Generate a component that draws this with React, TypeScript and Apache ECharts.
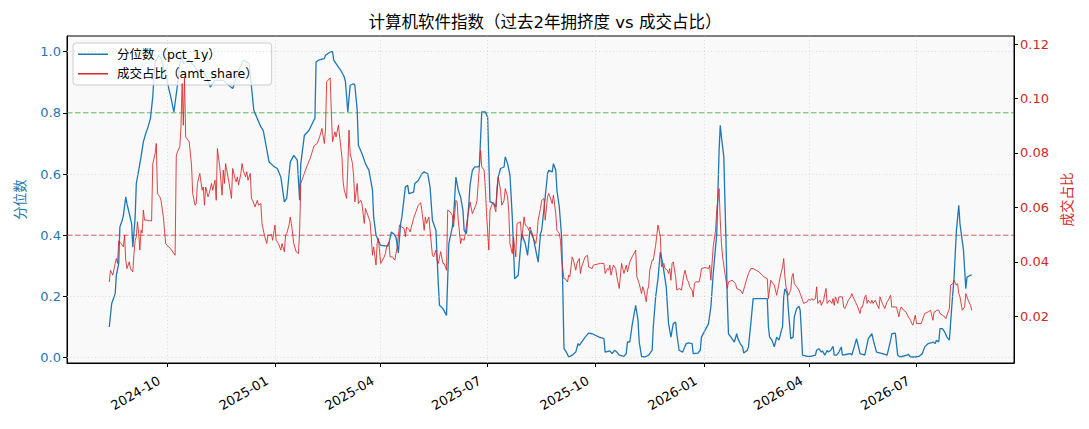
import { FC, useEffect, useRef } from "react";
import * as echarts from "echarts";

// 标题与图例
const TITLE = "计算机软件指数（过去2年拥挤度 vs 成交占比）";
const PCT_NAME = "分位数（pct_1y）";
const AMT_NAME = "成交占比（amt_share）";

// 分位数 (左轴)
const pctSeries: [string, number][] = [
  ["2024-08-13", 0.10], ["2024-08-15", 0.176], ["2024-08-18", 0.209], ["2024-08-19", 0.269], ["2024-08-21", 0.307],
  ["2024-08-22", 0.427], ["2024-08-24", 0.449], ["2024-08-25", 0.465], ["2024-08-27", 0.525], ["2024-08-28", 0.503],
  ["2024-08-30", 0.471], ["2024-09-01", 0.438], ["2024-09-02", 0.361], ["2024-09-04", 0.459], ["2024-09-05", 0.569],
  ["2024-09-07", 0.612], ["2024-09-09", 0.656], ["2024-09-11", 0.705], ["2024-09-13", 0.732], ["2024-09-15", 0.754],
  ["2024-09-17", 0.781], ["2024-09-19", 0.852], ["2024-09-20", 0.917], ["2024-09-21", 0.966], ["2024-09-24", 0.988],
  ["2024-09-26", 0.978], ["2024-09-30", 0.923], ["2024-10-04", 0.857], ["2024-10-07", 0.803], ["2024-10-10", 0.89],
  ["2024-10-13", 0.988], ["2024-10-15", 0.961], ["2024-10-20", 0.972], ["2024-10-27", 0.939], ["2024-11-01", 0.939],
  ["2024-11-07", 0.884], ["2024-11-11", 0.906], ["2024-11-18", 0.906], ["2024-11-26", 0.879], ["2024-11-30", 0.929],
  ["2024-12-05", 0.972], ["2024-12-10", 0.961], ["2024-12-14", 0.808], ["2024-12-20", 0.754], ["2024-12-22", 0.743],
  ["2024-12-27", 0.639], ["2024-12-31", 0.625], ["2025-01-03", 0.618], ["2025-01-06", 0.590], ["2025-01-09", 0.509],
  ["2025-01-11", 0.520], ["2025-01-14", 0.639], ["2025-01-17", 0.661], ["2025-01-20", 0.645], ["2025-01-22", 0.514],
  ["2025-01-23", 0.634], ["2025-01-26", 0.726], ["2025-01-30", 0.743], ["2025-02-03", 0.775], ["2025-02-04", 0.781],
  ["2025-02-05", 0.966], ["2025-02-07", 0.972], ["2025-02-12", 0.977], ["2025-02-13", 0.988], ["2025-02-17", 0.999],
  ["2025-02-19", 1.0], ["2025-02-20", 0.972], ["2025-02-23", 0.955], ["2025-02-26", 0.939], ["2025-03-01", 0.917],
  ["2025-03-02", 0.901], ["2025-03-04", 0.803], ["2025-03-06", 0.89], ["2025-03-09", 0.895], ["2025-03-10", 0.89],
  ["2025-03-12", 0.808], ["2025-03-13", 0.694], ["2025-03-16", 0.667], ["2025-03-19", 0.634], ["2025-03-22", 0.612],
  ["2025-03-25", 0.547], ["2025-03-26", 0.459], ["2025-03-28", 0.40], ["2025-03-30", 0.383], ["2025-04-01", 0.367],
  ["2025-04-07", 0.364], ["2025-04-08", 0.373], ["2025-04-10", 0.41], ["2025-04-12", 0.405], ["2025-04-14", 0.394],
  ["2025-04-16", 0.342], ["2025-04-18", 0.438], ["2025-04-19", 0.459], ["2025-04-22", 0.558], ["2025-04-24", 0.563],
  ["2025-04-25", 0.536], ["2025-04-29", 0.541], ["2025-04-30", 0.569], ["2025-05-03", 0.579], ["2025-05-06", 0.601],
  ["2025-05-08", 0.607], ["2025-05-11", 0.601], ["2025-05-13", 0.558], ["2025-05-15", 0.449], ["2025-05-18", 0.416],
  ["2025-05-19", 0.329], ["2025-05-20", 0.242], ["2025-05-21", 0.171], ["2025-05-24", 0.160], ["2025-05-27", 0.138],
  ["2025-05-29", 0.373], ["2025-06-01", 0.427], ["2025-06-02", 0.459], ["2025-06-04", 0.590], ["2025-06-06", 0.547],
  ["2025-06-08", 0.525], ["2025-06-10", 0.481], ["2025-06-11", 0.416], ["2025-06-13", 0.405], ["2025-06-15", 0.503],
  ["2025-06-16", 0.563], ["2025-06-18", 0.612], ["2025-06-20", 0.623], ["2025-06-23", 0.623], ["2025-06-24", 0.628],
  ["2025-06-26", 0.803], ["2025-06-29", 0.803], ["2025-07-01", 0.786], ["2025-07-03", 0.509], ["2025-07-06", 0.505],
  ["2025-07-08", 0.492], ["2025-07-10", 0.590], ["2025-07-12", 0.618], ["2025-07-15", 0.623], ["2025-07-16", 0.656],
  ["2025-07-18", 0.634], ["2025-07-20", 0.596], ["2025-07-22", 0.459], ["2025-07-24", 0.258], ["2025-07-27", 0.269],
  ["2025-07-30", 0.405], ["2025-08-02", 0.373], ["2025-08-04", 0.334], ["2025-08-06", 0.416], ["2025-08-09", 0.389],
  ["2025-08-13", 0.312], ["2025-08-15", 0.405], ["2025-08-16", 0.416], ["2025-08-19", 0.525], ["2025-08-21", 0.601],
  ["2025-08-22", 0.612], ["2025-08-25", 0.607], ["2025-08-26", 0.634], ["2025-08-28", 0.612], ["2025-08-29", 0.547],
  ["2025-08-31", 0.492], ["2025-09-02", 0.394], ["2025-09-03", 0.22], ["2025-09-04", 0.029], ["2025-09-06", 0.018],
  ["2025-09-08", 0.002], ["2025-09-11", 0.008], ["2025-09-14", 0.018], ["2025-09-16", 0.046], ["2025-09-17", 0.040],
  ["2025-09-19", 0.051], ["2025-09-22", 0.067], ["2025-09-25", 0.080], ["2025-09-28", 0.078], ["2025-10-04", 0.067],
  ["2025-10-08", 0.062], ["2025-10-09", 0.018], ["2025-10-13", 0.022], ["2025-10-15", 0.013], ["2025-10-17", 0.024],
  ["2025-10-19", 0.018], ["2025-10-21", 0.008], ["2025-10-25", 0.004], ["2025-10-27", 0.013], ["2025-10-28", 0.051],
  ["2025-10-30", 0.051], ["2025-11-01", 0.106], ["2025-11-04", 0.171], ["2025-11-06", 0.122], ["2025-11-07", 0.051],
  ["2025-11-09", 0.004], ["2025-11-12", 0.002], ["2025-11-15", 0.008], ["2025-11-18", 0.024], ["2025-11-19", 0.10],
  ["2025-11-21", 0.198], ["2025-11-23", 0.258], ["2025-11-25", 0.345], ["2025-11-27", 0.307], ["2025-11-30", 0.231],
  ["2025-12-02", 0.111], ["2025-12-04", 0.067], ["2025-12-06", 0.111], ["2025-12-08", 0.116], ["2025-12-09", 0.078],
  ["2025-12-11", 0.024], ["2025-12-14", 0.018], ["2025-12-17", 0.046], ["2025-12-19", 0.048], ["2025-12-22", 0.046],
  ["2025-12-23", 0.013], ["2025-12-27", 0.015], ["2025-12-29", 0.024], ["2025-12-30", 0.067], ["2026-01-02", 0.089],
  ["2026-01-05", 0.111], ["2026-01-07", 0.165], ["2026-01-09", 0.275], ["2026-01-12", 0.405], ["2026-01-14", 0.677],
  ["2026-01-15", 0.759], ["2026-01-16", 0.721], ["2026-01-18", 0.656], ["2026-01-20", 0.361], ["2026-01-21", 0.187],
  ["2026-01-22", 0.078], ["2026-01-25", 0.062], ["2026-01-27", 0.051], ["2026-01-29", 0.078], ["2026-01-30", 0.062],
  ["2026-02-01", 0.046], ["2026-02-03", 0.035], ["2026-02-04", 0.015], ["2026-02-07", 0.024], ["2026-02-08", 0.035],
  ["2026-02-10", 0.111], ["2026-02-12", 0.193], ["2026-02-15", 0.193], ["2026-02-24", 0.193], ["2026-02-25", 0.10],
  ["2026-02-26", 0.067], ["2026-02-28", 0.057], ["2026-03-02", 0.035], ["2026-03-04", 0.067], ["2026-03-06", 0.057],
  ["2026-03-08", 0.089], ["2026-03-09", 0.10], ["2026-03-10", 0.198], ["2026-03-11", 0.225], ["2026-03-13", 0.209],
  ["2026-03-14", 0.155], ["2026-03-16", 0.062], ["2026-03-18", 0.067], ["2026-03-19", 0.133], ["2026-03-21", 0.160],
  ["2026-03-23", 0.168], ["2026-03-24", 0.155], ["2026-03-25", 0.089], ["2026-03-26", 0.008], ["2026-03-30", 0.004],
  ["2026-04-02", 0.004], ["2026-04-06", 0.008], ["2026-04-07", 0.024], ["2026-04-09", 0.029], ["2026-04-11", 0.018],
  ["2026-04-12", 0.022], ["2026-04-14", 0.008], ["2026-04-16", 0.024], ["2026-04-17", 0.018], ["2026-04-19", 0.024],
  ["2026-04-21", 0.037], ["2026-04-22", 0.008], ["2026-04-24", 0.008], ["2026-04-26", 0.018], ["2026-04-28", 0.035],
  ["2026-04-29", 0.008], ["2026-05-03", 0.011], ["2026-05-06", 0.013], ["2026-05-07", 0.008], ["2026-05-09", 0.035],
  ["2026-05-11", 0.062], ["2026-05-13", 0.029], ["2026-05-14", 0.013], ["2026-05-18", 0.008], ["2026-05-21", 0.062],
  ["2026-05-24", 0.078], ["2026-05-26", 0.046], ["2026-05-28", 0.018], ["2026-06-02", 0.013], ["2026-06-06", 0.008],
  ["2026-06-09", 0.057], ["2026-06-10", 0.078], ["2026-06-13", 0.080], ["2026-06-15", 0.008], ["2026-06-17", 0.002],
  ["2026-06-23", 0.008], ["2026-06-24", 0.011], ["2026-06-26", 0.002], ["2026-06-30", 0.002], ["2026-07-03", 0.004],
  ["2026-07-06", 0.013], ["2026-07-08", 0.035], ["2026-07-11", 0.046], ["2026-07-14", 0.049], ["2026-07-15", 0.051],
  ["2026-07-17", 0.046], ["2026-07-18", 0.057], ["2026-07-20", 0.051], ["2026-07-21", 0.095], ["2026-07-23", 0.095],
  ["2026-07-25", 0.084], ["2026-07-27", 0.067], ["2026-07-29", 0.057], ["2026-07-31", 0.165], ["2026-08-02", 0.263],
  ["2026-08-04", 0.416], ["2026-08-06", 0.498], ["2026-08-07", 0.438], ["2026-08-10", 0.351], ["2026-08-12", 0.225],
  ["2026-08-13", 0.263], ["2026-08-16", 0.269], ["2026-08-17", 0.271],
];

// 成交占比 (右轴)
const amtSeries: [string, number][] = [
  ["2024-08-13", 0.0326], ["2024-08-14", 0.0369], ["2024-08-16", 0.0351], ["2024-08-18", 0.0394], ["2024-08-19", 0.0412],
  ["2024-08-20", 0.0394], ["2024-08-21", 0.0477], ["2024-08-23", 0.0467], ["2024-08-25", 0.0455], ["2024-08-26", 0.0498],
  ["2024-08-27", 0.0406], ["2024-08-28", 0.0375], ["2024-08-30", 0.0400], ["2024-08-31", 0.0375], ["2024-09-02", 0.0363],
  ["2024-09-03", 0.0430], ["2024-09-04", 0.0479], ["2024-09-05", 0.0492], ["2024-09-06", 0.0547], ["2024-09-07", 0.0504],
  ["2024-09-08", 0.0443], ["2024-09-09", 0.0516], ["2024-09-10", 0.0506], ["2024-09-11", 0.0590], ["2024-09-12", 0.0553],
  ["2024-09-14", 0.0553], ["2024-09-18", 0.0550], ["2024-09-19", 0.0761], ["2024-09-21", 0.0798], ["2024-09-22", 0.0835],
  ["2024-09-23", 0.0651], ["2024-09-25", 0.0639], ["2024-09-26", 0.0626], ["2024-09-28", 0.0565], ["2024-09-30", 0.0467],
  ["2024-10-01", 0.0461], ["2024-10-04", 0.0449], ["2024-10-08", 0.0424], ["2024-10-09", 0.0789], ["2024-10-10", 0.0804],
  ["2024-10-12", 0.0823], ["2024-10-13", 0.0896], ["2024-10-14", 0.1055], ["2024-10-15", 0.0902], ["2024-10-16", 0.1080],
  ["2024-10-17", 0.0859], ["2024-10-20", 0.0841], ["2024-10-22", 0.0755], ["2024-10-23", 0.0651], ["2024-10-25", 0.0608],
  ["2024-10-26", 0.0614], ["2024-10-27", 0.0688], ["2024-10-29", 0.0725], ["2024-10-31", 0.0663], ["2024-11-01", 0.0675],
  ["2024-11-02", 0.0608], ["2024-11-03", 0.0675], ["2024-11-05", 0.0639], ["2024-11-06", 0.0651], ["2024-11-08", 0.0688],
  ["2024-11-09", 0.0663], ["2024-11-11", 0.0700], ["2024-11-12", 0.0626], ["2024-11-13", 0.0816], ["2024-11-15", 0.0749],
  ["2024-11-17", 0.0645], ["2024-11-18", 0.0737], ["2024-11-19", 0.0688], ["2024-11-20", 0.0761], ["2024-11-22", 0.0712],
  ["2024-11-23", 0.0688], ["2024-11-25", 0.0633], ["2024-11-26", 0.0743], ["2024-11-28", 0.0706], ["2024-11-29", 0.0694],
  ["2024-11-30", 0.0712], ["2024-12-01", 0.0682], ["2024-12-03", 0.0725], ["2024-12-04", 0.0761], ["2024-12-05", 0.0737],
  ["2024-12-07", 0.0712], ["2024-12-08", 0.0731], ["2024-12-09", 0.0700], ["2024-12-11", 0.0725], ["2024-12-12", 0.0633],
  ["2024-12-13", 0.0626], ["2024-12-15", 0.0602], ["2024-12-17", 0.0626], ["2024-12-18", 0.0608], ["2024-12-20", 0.0614],
  ["2024-12-21", 0.0541], ["2024-12-23", 0.0498], ["2024-12-25", 0.0467], ["2024-12-26", 0.0498], ["2024-12-28", 0.0498],
  ["2024-12-29", 0.0501], ["2024-12-30", 0.0479], ["2025-01-01", 0.0535], ["2025-01-02", 0.0479], ["2025-01-04", 0.0467],
  ["2025-01-06", 0.0443], ["2025-01-07", 0.0467], ["2025-01-09", 0.0437], ["2025-01-10", 0.0498], ["2025-01-11", 0.0504],
  ["2025-01-13", 0.0535], ["2025-01-14", 0.0565], ["2025-01-15", 0.0541], ["2025-01-17", 0.0467], ["2025-01-19", 0.0437],
  ["2025-01-21", 0.0430], ["2025-01-22", 0.0516], ["2025-01-23", 0.0688], ["2025-01-26", 0.0725], ["2025-01-28", 0.0749],
  ["2025-01-31", 0.0780], ["2025-02-03", 0.0823], ["2025-02-04", 0.0829], ["2025-02-06", 0.0835], ["2025-02-08", 0.0859],
  ["2025-02-10", 0.0890], ["2025-02-12", 0.0835], ["2025-02-13", 0.0884], ["2025-02-14", 0.1062], ["2025-02-17", 0.1076],
  ["2025-02-18", 0.0945], ["2025-02-19", 0.0841], ["2025-02-21", 0.0878], ["2025-02-22", 0.0859], ["2025-02-24", 0.0902],
  ["2025-02-26", 0.0823], ["2025-02-27", 0.0786], ["2025-02-28", 0.0694], ["2025-03-01", 0.0663], ["2025-03-03", 0.0633],
  ["2025-03-04", 0.0749], ["2025-03-05", 0.0884], ["2025-03-06", 0.0798], ["2025-03-08", 0.0761], ["2025-03-09", 0.0712],
  ["2025-03-10", 0.0620], ["2025-03-12", 0.0688], ["2025-03-13", 0.0614], ["2025-03-15", 0.0626], ["2025-03-16", 0.0614],
  ["2025-03-18", 0.0541], ["2025-03-19", 0.0596], ["2025-03-20", 0.0584], ["2025-03-23", 0.0547], ["2025-03-25", 0.0424],
  ["2025-03-26", 0.0455], ["2025-03-28", 0.0388], ["2025-03-29", 0.0467], ["2025-03-30", 0.0486], ["2025-04-01", 0.0394],
  ["2025-04-04", 0.0418], ["2025-04-05", 0.0430], ["2025-04-06", 0.0455], ["2025-04-08", 0.0473], ["2025-04-09", 0.0418],
  ["2025-04-11", 0.0418], ["2025-04-13", 0.0406], ["2025-04-15", 0.0455], ["2025-04-17", 0.0535], ["2025-04-19", 0.0528],
  ["2025-04-21", 0.0522], ["2025-04-22", 0.0492], ["2025-04-23", 0.0528], ["2025-04-25", 0.0519], ["2025-04-26", 0.0510],
  ["2025-04-29", 0.0559], ["2025-05-01", 0.0584], ["2025-05-03", 0.0608], ["2025-05-05", 0.0617], ["2025-05-06", 0.0590],
  ["2025-05-08", 0.0516], ["2025-05-09", 0.0565], ["2025-05-10", 0.0541], ["2025-05-12", 0.0565], ["2025-05-13", 0.0516],
  ["2025-05-15", 0.0424], ["2025-05-16", 0.0418], ["2025-05-18", 0.0443], ["2025-05-19", 0.0406], ["2025-05-20", 0.0394],
  ["2025-05-22", 0.0437], ["2025-05-24", 0.0394], ["2025-05-25", 0.0394], ["2025-05-27", 0.0369], ["2025-05-28", 0.0590],
  ["2025-05-30", 0.0584], ["2025-06-01", 0.0571], ["2025-06-02", 0.0528], ["2025-06-04", 0.0626], ["2025-06-05", 0.0620],
  ["2025-06-06", 0.0553], ["2025-06-08", 0.0467], ["2025-06-09", 0.0486], ["2025-06-11", 0.0479], ["2025-06-12", 0.0504],
  ["2025-06-14", 0.0565], ["2025-06-15", 0.0590], ["2025-06-16", 0.0620], ["2025-06-18", 0.0577], ["2025-06-21", 0.0608],
  ["2025-06-22", 0.0626], ["2025-06-23", 0.0688], ["2025-06-25", 0.0810], ["2025-06-26", 0.0749], ["2025-06-28", 0.0737],
  ["2025-06-29", 0.0675], ["2025-06-30", 0.0584], ["2025-07-02", 0.0443], ["2025-07-03", 0.0590], ["2025-07-05", 0.0614],
  ["2025-07-06", 0.0614], ["2025-07-08", 0.0584], ["2025-07-09", 0.0675], ["2025-07-10", 0.0712], ["2025-07-12", 0.0663],
  ["2025-07-13", 0.0608], ["2025-07-15", 0.0626], ["2025-07-16", 0.0669], ["2025-07-18", 0.0639], ["2025-07-19", 0.0584],
  ["2025-07-20", 0.0467], ["2025-07-22", 0.0430], ["2025-07-23", 0.0492], ["2025-07-25", 0.0418], ["2025-07-26", 0.0541],
  ["2025-07-29", 0.0547], ["2025-07-30", 0.0479], ["2025-08-01", 0.0565], ["2025-08-02", 0.0535], ["2025-08-04", 0.0528],
  ["2025-08-05", 0.0516], ["2025-08-06", 0.0528], ["2025-08-08", 0.0504], ["2025-08-09", 0.0486], ["2025-08-11", 0.0467],
  ["2025-08-12", 0.0498], ["2025-08-13", 0.0553], ["2025-08-15", 0.0596], ["2025-08-16", 0.0626], ["2025-08-18", 0.0633],
  ["2025-08-19", 0.0553], ["2025-08-21", 0.0639], ["2025-08-22", 0.0651], ["2025-08-23", 0.0639], ["2025-08-25", 0.0614],
  ["2025-08-26", 0.0645], ["2025-08-28", 0.0577], ["2025-08-29", 0.0516], ["2025-08-31", 0.0504], ["2025-09-01", 0.0479],
  ["2025-09-02", 0.0406], ["2025-09-04", 0.0338], ["2025-09-05", 0.0338], ["2025-09-07", 0.0326], ["2025-09-08", 0.0351],
  ["2025-09-09", 0.0345], ["2025-09-11", 0.0418], ["2025-09-12", 0.0406], ["2025-09-14", 0.0369], ["2025-09-15", 0.0394],
  ["2025-09-17", 0.0412], ["2025-09-18", 0.0357], ["2025-09-19", 0.0381], ["2025-09-21", 0.0406], ["2025-09-22", 0.0418],
  ["2025-09-24", 0.0424], ["2025-09-25", 0.0381], ["2025-09-28", 0.0375], ["2025-09-29", 0.0388], ["2025-10-05", 0.0394],
  ["2025-10-08", 0.0394], ["2025-10-09", 0.0357], ["2025-10-11", 0.0375], ["2025-10-12", 0.0369], ["2025-10-13", 0.0388],
  ["2025-10-14", 0.0351], ["2025-10-16", 0.0388], ["2025-10-18", 0.0375], ["2025-10-19", 0.0345], ["2025-10-21", 0.0302],
  ["2025-10-23", 0.0394], ["2025-10-24", 0.0375], ["2025-10-25", 0.0357], ["2025-10-27", 0.0388], ["2025-10-28", 0.0363],
  ["2025-10-30", 0.0400], ["2025-11-01", 0.0418], ["2025-11-04", 0.0443], ["2025-11-05", 0.0345], ["2025-11-07", 0.0320],
  ["2025-11-09", 0.0283], ["2025-11-10", 0.0308], ["2025-11-11", 0.0296], ["2025-11-13", 0.0253], ["2025-11-14", 0.0296],
  ["2025-11-15", 0.0308], ["2025-11-16", 0.0369], ["2025-11-18", 0.0406], ["2025-11-19", 0.0406], ["2025-11-21", 0.0461],
  ["2025-11-22", 0.0498], ["2025-11-23", 0.0535], ["2025-11-25", 0.0492], ["2025-11-26", 0.0381], ["2025-11-28", 0.0394],
  ["2025-11-29", 0.0375], ["2025-12-01", 0.0369], ["2025-12-02", 0.0357], ["2025-12-03", 0.0375], ["2025-12-04", 0.0332],
  ["2025-12-05", 0.0394], ["2025-12-06", 0.0400], ["2025-12-08", 0.0345], ["2025-12-09", 0.0296], ["2025-12-11", 0.0302],
  ["2025-12-13", 0.0296], ["2025-12-15", 0.0351], ["2025-12-16", 0.0369], ["2025-12-18", 0.0332], ["2025-12-19", 0.0326],
  ["2025-12-20", 0.0308], ["2025-12-22", 0.0296], ["2025-12-23", 0.0271], ["2025-12-24", 0.0320], ["2025-12-25", 0.0326],
  ["2025-12-28", 0.0326], ["2025-12-29", 0.0345], ["2025-12-30", 0.0375], ["2026-01-02", 0.0379], ["2026-01-05", 0.0375],
  ["2026-01-06", 0.0388], ["2026-01-07", 0.0332], ["2026-01-08", 0.0394], ["2026-01-09", 0.0455], ["2026-01-11", 0.0516],
  ["2026-01-12", 0.0590], ["2026-01-14", 0.0669], ["2026-01-15", 0.0553], ["2026-01-16", 0.0467], ["2026-01-17", 0.0418],
  ["2026-01-19", 0.0357], ["2026-01-21", 0.0302], ["2026-01-22", 0.0326], ["2026-01-25", 0.0332], ["2026-01-28", 0.0320],
  ["2026-01-29", 0.0302], ["2026-02-01", 0.0296], ["2026-02-03", 0.0283], ["2026-02-05", 0.0314], ["2026-02-08", 0.0357],
  ["2026-02-10", 0.0375], ["2026-02-12", 0.0375], ["2026-02-17", 0.0363], ["2026-02-21", 0.0345], ["2026-02-24", 0.0338],
  ["2026-02-25", 0.0265], ["2026-02-27", 0.0332], ["2026-03-01", 0.0320], ["2026-03-02", 0.0314], ["2026-03-04", 0.0277],
  ["2026-03-06", 0.0320], ["2026-03-07", 0.0345], ["2026-03-09", 0.0381], ["2026-03-10", 0.0412], ["2026-03-11", 0.0345],
  ["2026-03-12", 0.0308], ["2026-03-14", 0.0277], ["2026-03-16", 0.0296], ["2026-03-17", 0.0345], ["2026-03-18", 0.0357],
  ["2026-03-19", 0.0320], ["2026-03-21", 0.0308], ["2026-03-23", 0.0296], ["2026-03-24", 0.0283], ["2026-03-26", 0.0259],
  ["2026-03-27", 0.0247], ["2026-03-30", 0.0253], ["2026-03-31", 0.0261], ["2026-04-02", 0.0259], ["2026-04-03", 0.0265],
  ["2026-04-04", 0.0259], ["2026-04-06", 0.0265], ["2026-04-07", 0.0308], ["2026-04-08", 0.0247], ["2026-04-10", 0.0259],
  ["2026-04-11", 0.0240], ["2026-04-13", 0.0259], ["2026-04-14", 0.0283], ["2026-04-15", 0.0302], ["2026-04-16", 0.0247],
  ["2026-04-18", 0.0259], ["2026-04-20", 0.0247], ["2026-04-21", 0.0265], ["2026-04-22", 0.0240], ["2026-04-23", 0.0271],
  ["2026-04-25", 0.0247], ["2026-04-26", 0.0271], ["2026-04-29", 0.0271], ["2026-04-30", 0.0234], ["2026-05-01", 0.0228],
  ["2026-05-03", 0.0247], ["2026-05-04", 0.0259], ["2026-05-06", 0.0271], ["2026-05-07", 0.0283], ["2026-05-08", 0.0271],
  ["2026-05-10", 0.0253], ["2026-05-12", 0.0234], ["2026-05-14", 0.0210], ["2026-05-15", 0.0234], ["2026-05-16", 0.0234],
  ["2026-05-18", 0.0271], ["2026-05-19", 0.0277], ["2026-05-20", 0.0247], ["2026-05-21", 0.0259], ["2026-05-23", 0.0247],
  ["2026-05-24", 0.0259], ["2026-05-25", 0.0247], ["2026-05-27", 0.0259], ["2026-05-28", 0.0247], ["2026-05-30", 0.0228],
  ["2026-05-31", 0.0271], ["2026-06-02", 0.0247], ["2026-06-04", 0.0228], ["2026-06-06", 0.0253], ["2026-06-07", 0.0259],
  ["2026-06-09", 0.0277], ["2026-06-10", 0.0234], ["2026-06-11", 0.0234], ["2026-06-14", 0.0234], ["2026-06-16", 0.0198],
  ["2026-06-17", 0.0222], ["2026-06-18", 0.0234], ["2026-06-20", 0.0222], ["2026-06-22", 0.0216], ["2026-06-24", 0.0198],
  ["2026-06-26", 0.0185], ["2026-06-27", 0.0173], ["2026-06-28", 0.0167], ["2026-06-30", 0.0204], ["2026-07-01", 0.0173],
  ["2026-07-03", 0.0173], ["2026-07-05", 0.0173], ["2026-07-07", 0.0198], ["2026-07-08", 0.0210], ["2026-07-11", 0.0216],
  ["2026-07-13", 0.0222], ["2026-07-15", 0.0185], ["2026-07-16", 0.0216], ["2026-07-17", 0.0216], ["2026-07-18", 0.0222],
  ["2026-07-20", 0.0222], ["2026-07-21", 0.0210], ["2026-07-23", 0.0204], ["2026-07-25", 0.0198], ["2026-07-26", 0.0191],
  ["2026-07-27", 0.0204], ["2026-07-29", 0.0228], ["2026-07-30", 0.0314], ["2026-08-01", 0.0320], ["2026-08-02", 0.0332],
  ["2026-08-04", 0.0314], ["2026-08-05", 0.0320], ["2026-08-06", 0.0283], ["2026-08-07", 0.0271], ["2026-08-09", 0.0222],
  ["2026-08-11", 0.0234], ["2026-08-12", 0.0283], ["2026-08-14", 0.0259], ["2026-08-16", 0.0240], ["2026-08-17", 0.0222],
];

// 刻度
const monthTicks = ["2024-10-01", "2025-01-01", "2025-04-01", "2025-07-01", "2025-10-01", "2026-01-01", "2026-04-01", "2026-07-01"];
const pctTicks = [0, 0.2, 0.4, 0.6, 0.8, 1.0];
const amtTicks = [0.02, 0.04, 0.06, 0.08, 0.10, 0.12];
const X_MIN = "2024-07-08";
const X_MAX = "2026-09-22";

// 阈值线 (左轴)
const HIGH_LINE = 0.8;
const LOW_LINE = 0.4;

const BLUE = "#1f77b4";
const RED = "#d62728";
const FONT = "'DejaVu Sans', 'Noto Sans CJK SC', sans-serif";

const ts = (s: string) => {
    const [y, m, d] = s.split("-").map(Number);
    return new Date(y, m - 1, d).getTime();
};

// 水平阈值线：横跨整个 x 范围的两点折线
const thresholdSeries = (name: string, value: number, color: string) => ({
    name,
    type: "line",
    yAxisIndex: 0,
    z: 2,
    silent: true,
    showSymbol: false,
    symbol: "none",
    color,
    lineStyle: { color, type: [5.5, 2.5], width: 1 },
    data: [
        [ts(X_MIN), value],
        [ts(X_MAX), value],
    ],
});

const App: FC = () => {
    const chartRef = useRef<HTMLDivElement>(null);

    useEffect(() => {
        if (!chartRef.current) return;
        const chart = echarts.init(chartRef.current, undefined, { renderer: "svg" });
        const tickTs = monthTicks.map(ts);

        const option = {
            animation: false,
            backgroundColor: "#ffffff",
            textStyle: { fontFamily: FONT },
            title: {
                text: TITLE,
                left: 540,
                top: 9,
                textAlign: "center",
                textStyle: { fontSize: 16.5, fontWeight: "normal", color: "#000", fontFamily: FONT },
            },
            legend: {
                orient: "vertical",
                left: 73,
                top: 43,
                z: 5,
                selectedMode: false,
                data: [
                    { name: PCT_NAME, icon: "rect" },
                    { name: AMT_NAME, icon: "rect" },
                ],
                itemWidth: 30,
                itemHeight: 1.5,
                itemGap: 7,
                padding: [5, 14, 5, 5],
                backgroundColor: "rgba(255,255,255,0.8)",
                borderColor: "#cccccc",
                borderWidth: 1,
                borderRadius: 3,
                textStyle: { fontSize: 12.5, color: "#000", fontFamily: FONT, padding: [0, 0, 0, 4] },
            },
            grid: {
                left: 67,
                right: 75,
                top: 36,
                bottom: 66,
                show: true,
                backgroundColor: "#f9f9f9",
                borderColor: "#000",
                borderWidth: 1,
                outerBoundsMode: "none",
                containLabel: false,
            },
            // 时间戳作为数值轴，季度刻度
            xAxis: {
                type: "value",
                min: ts(X_MIN),
                max: ts(X_MAX),
                axisLine: { show: true, onZero: false, lineStyle: { color: "#000", width: 1 } },
                axisTick: { show: true, customValues: tickTs, length: 4, lineStyle: { color: "#000" } },
                axisLabel: {
                    customValues: tickTs,
                    rotate: 30,
                    margin: 12,
                    padding: [0, 9, 0, 0],
                    color: "#000",
                    fontSize: 13,
                    fontFamily: FONT,
                    formatter: (v: number) => {
                        const d = new Date(v);
                        return `${d.getFullYear()}-${String(d.getMonth() + 1).padStart(2, "0")}`;
                    },
                },
                splitLine: { show: false },
            },
            yAxis: [
                {
                    type: "value",
                    position: "left",
                    min: -0.0176,
                    max: 1.051,
                    name: "分位数",
                    nameLocation: "middle",
                    nameGap: 40,
                    nameTextStyle: { color: BLUE, fontSize: 13.5, fontFamily: FONT },
                    axisLine: { show: true, onZero: false, lineStyle: { color: "#000" } },
                    axisTick: { show: true, customValues: pctTicks, length: 4, lineStyle: { color: "#000" } },
                    axisLabel: {
                        customValues: pctTicks,
                        color: BLUE,
                        fontSize: 13,
                        margin: 6,
                        fontFamily: FONT,
                        formatter: (v: number) => v.toFixed(1),
                    },
                    splitLine: { show: false },
                },
                {
                    type: "value",
                    position: "right",
                    min: 0.0028,
                    max: 0.123,
                    name: "成交占比",
                    nameLocation: "middle",
                    nameGap: 46,
                    nameTextStyle: { color: RED, fontSize: 13.5, fontFamily: FONT },
                    axisLine: { show: true, onZero: false, lineStyle: { color: "#000" } },
                    axisTick: { show: true, customValues: amtTicks, length: 4, lineStyle: { color: "#000" } },
                    axisLabel: {
                        customValues: amtTicks,
                        color: RED,
                        fontSize: 13,
                        margin: 6,
                        fontFamily: FONT,
                        formatter: (v: number) => v.toFixed(2),
                    },
                    splitLine: { show: false },
                },
            ],
            series: [
                {
                    // 网格线
                    name: "_grid",
                    type: "line",
                    data: [],
                    z: 1,
                    silent: true,
                    markLine: {
                        silent: true,
                        symbol: "none",
                        label: { show: false },
                        lineStyle: { color: "#d2d2d2", type: [1, 2.5], width: 0.8 },
                        data: [
                            ...tickTs.map((t) => ({ xAxis: t })),
                            ...pctTicks.filter((v) => v !== HIGH_LINE && v !== LOW_LINE).map((v) => ({ yAxis: v })),
                        ],
                    },
                },
                thresholdSeries("_high", HIGH_LINE, "rgba(44,160,44,0.75)"),
                thresholdSeries("_low", LOW_LINE, "rgba(214,39,40,0.75)"),
                {
                    name: PCT_NAME,
                    type: "line",
                    yAxisIndex: 0,
                    z: 3,
                    showSymbol: false,
                    symbol: "none",
                    color: BLUE,
                    lineStyle: { color: BLUE, width: 1.3 },
                    data: pctSeries.map(([d, v]) => [ts(d), v]),
                },
                {
                    name: AMT_NAME,
                    type: "line",
                    yAxisIndex: 1,
                    z: 10,
                    showSymbol: false,
                    symbol: "none",
                    color: RED,
                    lineStyle: { color: RED, width: 1, opacity: 0.85 },
                    data: amtSeries.map(([d, v]) => [ts(d), v]),
                },
            ],
        };

        chart.setOption(option as any);

        return () => {
            chart.dispose();
        };
    }, []);

    return (
        <div
            ref={chartRef}
            style={{ position: "fixed", left: 0, top: 0, width: "1089px", height: "429px" }}
        />
    );
};

export default App;
